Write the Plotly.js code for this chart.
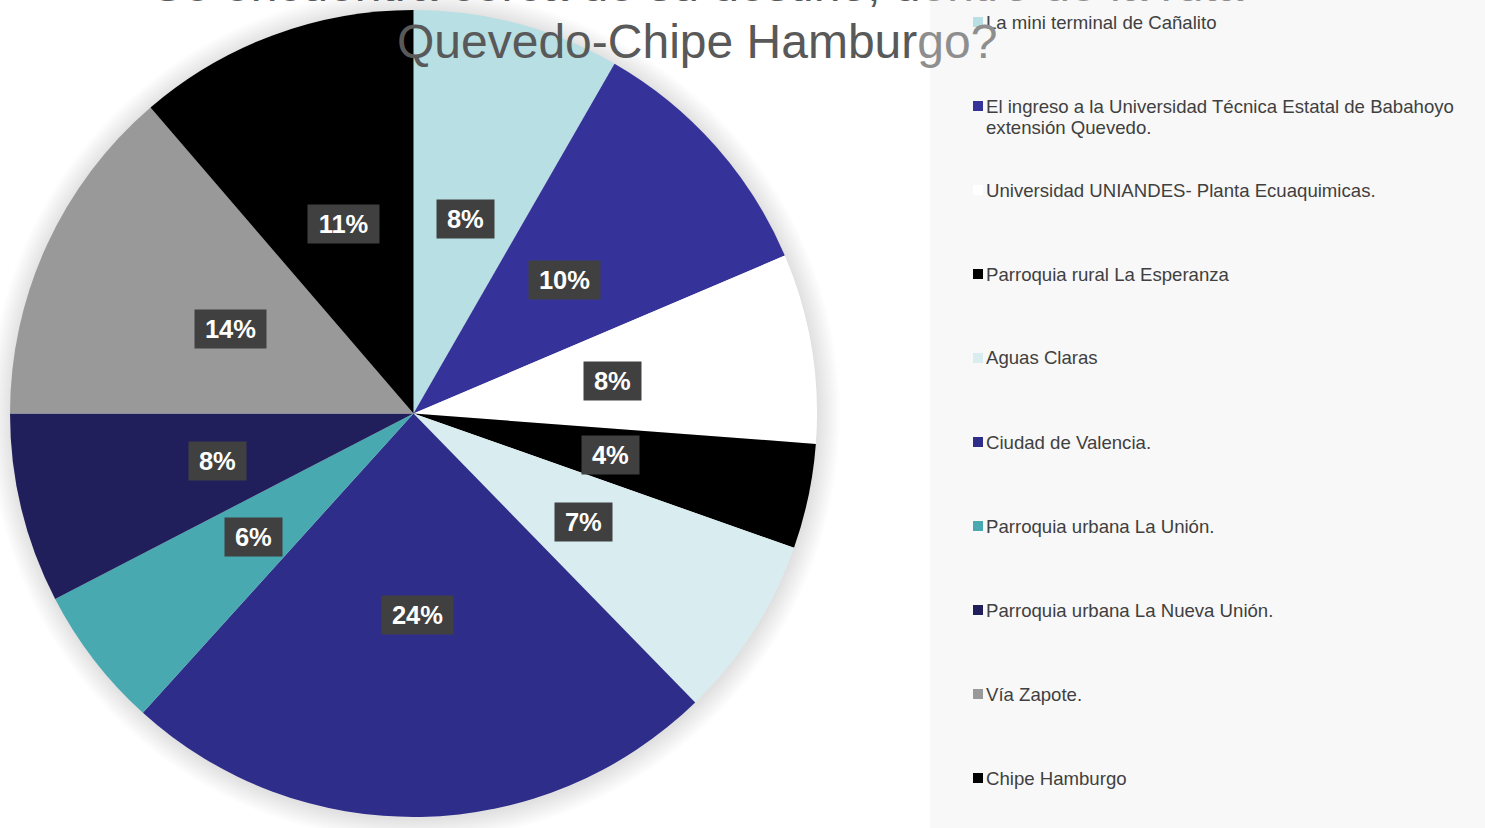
<!DOCTYPE html>
<html>
<head>
<meta charset="utf-8">
<script src="https://cdn.plot.ly/plotly-3.0.1.min.js"></script>
<style>html,body{margin:0;padding:0;background:#fff;}#chart{width:1485px;height:828px;}</style>
</head>
<body>
<div id="chart"></div>
<script>
// ---- data ----
const titleLine1 = "Se encuentra cerca de su destino, dentro de la ruta";
const titleLine2 = "Quevedo-Chipe Hamburgo?";
const categories = [
  "La mini terminal de Cañalito",
  "El ingreso a la Universidad Técnica Estatal de Babahoyo extensión Quevedo.",
  "Universidad UNIANDES- Planta Ecuaquimicas.",
  "Parroquia rural La Esperanza",
  "Aguas Claras",
  "Ciudad de Valencia.",
  "Parroquia urbana La Unión.",
  "Parroquia urbana La Nueva Unión.",
  "Vía Zapote.",
  "Chipe Hamburgo"
];
const values = [8.3, 10.3, 7.6, 4.2, 7.3, 24.0, 5.7, 7.6, 13.7, 11.3];
const colors = ["#b8dfe3", "#35339a", "#ffffff", "#000000", "#d9edf0",
                "#2e2d8a", "#48a9b0", "#201f5c", "#999999", "#000000"];

// ---- geometry ----
const W = 1485, H = 828;
const cx = 413.5, cy = 413.5, R = 403.5;
const px = x => x / W;
const py = y => 1 - y / H;

const total = values.reduce((a, b) => a + b, 0);

const trace = {
  type: "pie",
  labels: categories,
  values: values,
  sort: false,
  direction: "clockwise",
  rotation: 0,
  textinfo: "none",
  hoverinfo: "label+percent",
  marker: {colors: colors, line: {width: 0}},
  domain: {x: [px(cx - R), px(cx + R)], y: [py(cy + R), py(cy - R)]},
  showlegend: false
};

const annotations = [];
const shapes = [];

// legend panel
shapes.push({type: "rect", xref: "paper", yref: "paper", x0: px(930), x1: 1, y0: 0, y1: 1,
  fillcolor: "#f8f8f8", line: {width: 0}, layer: "below"});
// soft shadow around the pie
for (let k = 22; k >= 1; k -= 1.5) {
  shapes.push({type: "circle", xref: "paper", yref: "paper",
    x0: px(cx - R - k + 1), x1: px(cx + R + k + 1), y0: py(cy + R + k + 2), y1: py(cy - R - k + 1),
    fillcolor: "rgba(0,0,0,0.009)", line: {width: 0}, layer: "below"});
}

// percentage labels in dark boxes
let cum = 0;
values.forEach((v, i) => {
  const mid = (cum + v / 2) / total * 2 * Math.PI;
  cum += v;
  const r = 0.5 * R;
  const txt = Math.round(v / total * 100) + "%";
  const nd = txt.length - 1;
  annotations.push({
    xref: "paper", yref: "paper",
    x: px(cx + r * Math.sin(mid)), y: py(cy - r * Math.cos(mid)),
    xanchor: "center", yanchor: "middle",
    text: "<b>" + txt + "</b>", showarrow: false,
    font: {family: "Liberation Sans, Arial, sans-serif", size: 25.5, color: "#ffffff"},
    bgcolor: "#404040", borderpad: 4,
    width: 14.2 * nd + 22.5 + 12, height: 30
  });
});

// custom legend (long labels wrap onto a second line)
const legTop = 22, legStep = 84, legFs = 18.6, legLine = 21, maxChars = 56;
function wrap(s) {
  if (s.length <= maxChars) return [s];
  const cut = s.lastIndexOf(" ", maxChars);
  return [s.slice(0, cut), s.slice(cut + 1)];
}
categories.forEach((c, i) => {
  const yc = legTop + legStep * i;
  shapes.push({type: "rect", xref: "paper", yref: "paper",
    x0: px(973), x1: px(983), y0: py(yc + 5), y1: py(yc - 5),
    fillcolor: colors[i], line: {width: 0}, layer: "above"});
  wrap(c).forEach((line, j) => {
    annotations.push({
      xref: "paper", yref: "paper",
      x: px(984), y: py(yc + j * legLine), xanchor: "left", yanchor: "middle",
      align: "left", text: line, showarrow: false,
      font: {family: "Liberation Sans, Arial, sans-serif", size: legFs, color: "#404040"}
    });
  });
});

// title (two lines, partly under the legend panel -> lighter there)
const split1 = titleLine1.indexOf("entro");
const split2 = titleLine2.indexOf("go?");
annotations.push({
  xref: "paper", yref: "paper", x: px(697.5), y: py(-15), xanchor: "center", yanchor: "middle",
  text: titleLine1.slice(0, split1) + "<span style='color:#8e8e8e'>" + titleLine1.slice(split1) + "</span>",
  showarrow: false, font: {family: "Liberation Sans, Arial, sans-serif", size: 48, color: "#595959"}
});
annotations.push({
  xref: "paper", yref: "paper", x: px(697), y: py(41), xanchor: "center", yanchor: "middle",
  text: titleLine2.slice(0, split2) + "<span style='color:#8e8e8e'>" + titleLine2.slice(split2) + "</span>",
  showarrow: false, font: {family: "Liberation Sans, Arial, sans-serif", size: 48, color: "#595959"}
});

const layout = {
  width: W, height: H,
  margin: {l: 0, r: 0, t: 0, b: 0},
  paper_bgcolor: "#ffffff",
  showlegend: false,
  annotations: annotations,
  shapes: shapes
};

Plotly.newPlot("chart", [trace], layout, {displayModeBar: false, staticPlot: true});
</script>
</body>
</html>
